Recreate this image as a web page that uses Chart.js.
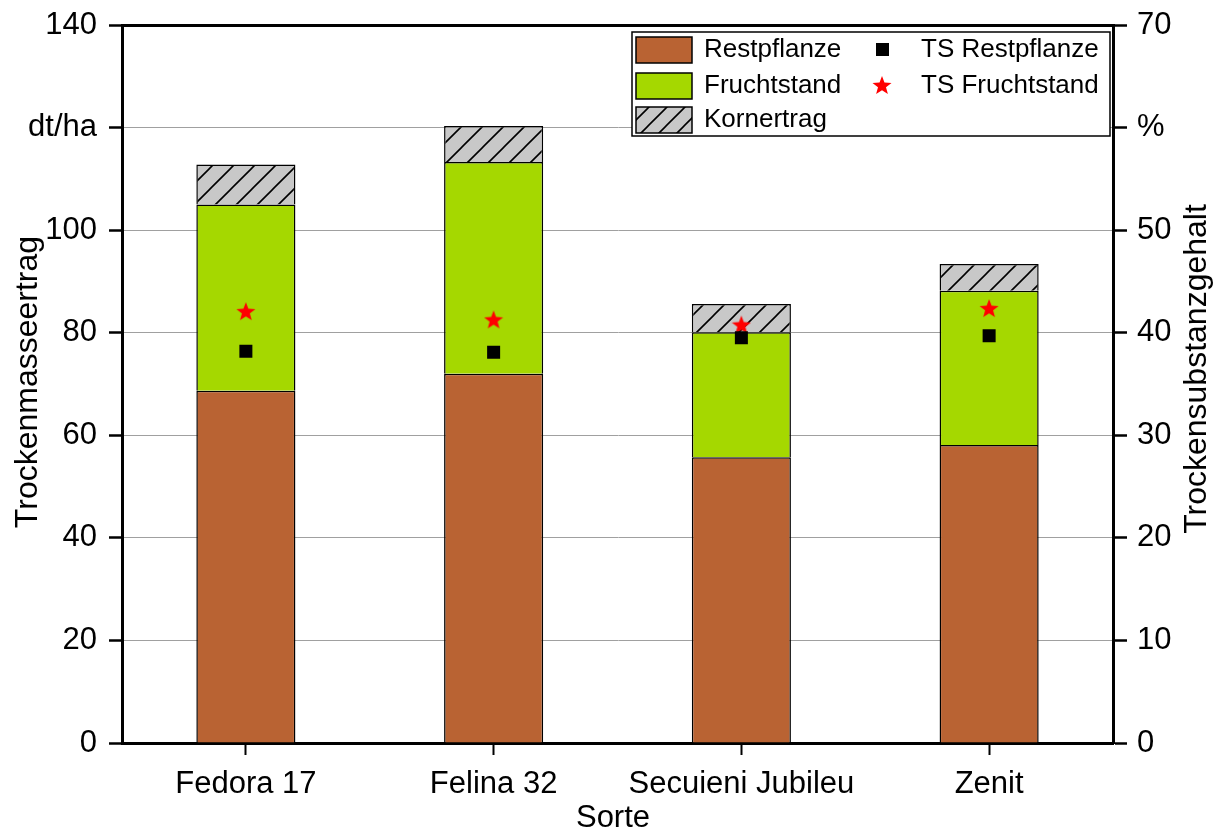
<!DOCTYPE html>
<html>
<head>
<meta charset="utf-8">
<script src="https://cdn.jsdelivr.net/npm/chart.js@4.4.1/dist/chart.umd.min.js"></script>
<style>
  html, body { margin: 0; padding: 0; background: #fff; }
</style>
</head>
<body>
<canvas id="chart" width="1216" height="831"></canvas>
<script>
// values
const sorten = ['Fedora 17', 'Felina 32', 'Secuieni Jubileu', 'Zenit'];
const restpflanze = [68.7, 72.0, 55.7, 58.1];
const fruchtstand = [36.3, 41.3, 24.4, 30.1];
const kornertrag = [7.8, 7.0, 5.5, 5.2];
const tsRestpflanze = [38.2, 38.1, 39.5, 39.7];
const tsFruchtstand = [42.1, 41.3, 40.8, 42.4];
const leftTickLabels = ['0', '20', '40', '60', '80', '100', 'dt/ha', '140'];
const rightTickLabels = ['0', '10', '20', '30', '40', '50', '%', '70'];

const FONT = "'Liberation Sans', Arial, sans-serif";
const brown = '#b96333';
const green = '#a5d800';

// diagonal hatch for Kornertrag
function makeHatch(step) {
  const c = document.createElement('canvas');
  c.width = step; c.height = step;
  const g = c.getContext('2d');
  g.fillStyle = '#c8c8c8';
  g.fillRect(0, 0, step, step);
  g.strokeStyle = '#000';
  g.lineWidth = 1.6;
  g.beginPath();
  g.moveTo(-2, step + 2); g.lineTo(step + 2, -2);
  g.moveTo(-2, 2); g.lineTo(2, -2);
  g.moveTo(step - 2, step + 2); g.lineTo(step + 2, step - 2);
  g.stroke();
  return g.createPattern(c, 'repeat');
}

// filled five point star as point image
function makeStar(size, color) {
  const c = document.createElement('canvas');
  c.width = size; c.height = size;
  const g = c.getContext('2d');
  const cx = size / 2, cy = size / 2 + 1, R = size / 2, r = R * 0.42;
  g.beginPath();
  for (let i = 0; i < 10; i++) {
    const a = -Math.PI / 2 + i * Math.PI / 5;
    const rad = i % 2 ? r : R;
    g.lineTo(cx + rad * Math.cos(a), cy + rad * Math.sin(a));
  }
  g.closePath();
  g.fillStyle = color;
  g.fill();
  return c;
}

const ctx = document.getElementById('chart').getContext('2d');
const hatch = makeHatch(21);
const starImg = makeStar(20, '#ff0000');

// titles and the boxed legend are drawn by hand
const extras = {
  id: 'extras',
  afterDraw(chart) {
    const g = chart.ctx;
    g.save();
    g.fillStyle = '#000';
    g.textAlign = 'center';
    g.textBaseline = 'middle';
    g.font = '32px ' + FONT;
    g.save(); g.translate(28, 382); g.rotate(-Math.PI / 2); g.fillText('Trockenmasseertrag', 0, 0); g.restore();
    g.save(); g.translate(1197, 369); g.rotate(-Math.PI / 2); g.fillText('Trockensubstanzgehalt', 0, 0); g.restore();
    g.font = '31px ' + FONT;
    g.fillText('Sorte', 613, 818);

    // legend box
    g.fillStyle = '#fff';
    g.fillRect(632, 32, 478, 104);
    g.strokeStyle = '#000';
    g.lineWidth = 1.5;
    g.strokeRect(632, 32, 478, 104);
    const sw = [[brown, 37], [green, 73], [makeHatch(18), 107]];
    sw.forEach(([fill, y]) => {
      g.fillStyle = fill;
      g.fillRect(636, y, 56, 26);
      g.strokeRect(636, y, 56, 26);
    });
    g.fillStyle = '#000';
    g.textAlign = 'left';
    g.font = '26px ' + FONT;
    g.fillText('Restpflanze', 704, 50);
    g.fillText('Fruchtstand', 704, 86);
    g.fillText('Kornertrag', 704, 120);
    g.fillText('TS Restpflanze', 921, 50);
    g.fillText('TS Fruchtstand', 921, 86);
    g.fillRect(876, 43, 13, 13);
    g.drawImage(starImg, 882 - 10, 85 - 10);
    g.restore();
  }
};

// fixed axis sizes so the plot area sits where it does in the picture
const fitY = w => s => { s.width = w; s.paddingTop = 0; s.paddingBottom = 0; };

new Chart(ctx, {
  type: 'bar',
  data: {
    labels: sorten,
    datasets: [
      { type: 'line', label: 'TS Restpflanze', data: tsRestpflanze, yAxisID: 'y2', showLine: false,
        pointStyle: 'rect', pointRadius: 9.2, pointBackgroundColor: '#000', pointBorderWidth: 0, order: 0 },
      { type: 'line', label: 'TS Fruchtstand', data: tsFruchtstand, yAxisID: 'y2', showLine: false,
        pointStyle: starImg, pointRadius: 9, order: 0 },
      { label: 'Restpflanze', data: restpflanze, backgroundColor: brown, borderColor: '#000', borderWidth: 1.5, stack: 's', order: 1 },
      { label: 'Fruchtstand', data: fruchtstand, backgroundColor: green, borderColor: '#000', borderWidth: 1.5, stack: 's', order: 1 },
      { label: 'Kornertrag', data: kornertrag, backgroundColor: hatch, borderColor: '#000', borderWidth: 1.5, stack: 's', order: 1 }
    ]
  },
  options: {
    responsive: false,
    animation: false,
    devicePixelRatio: 1,
    layout: { padding: { top: 25, left: 0, right: 0, bottom: 0 } },
    datasets: { bar: { categoryPercentage: 1, barPercentage: 0.4 } },
    plugins: { legend: { display: false }, tooltip: { enabled: false } },
    scales: {
      x: {
        stacked: true,
        afterFit: s => { s.height = 88; s.paddingLeft = 0; s.paddingRight = 0; },
        border: { color: '#000', width: 3 },
        grid: { offset: false, drawOnChartArea: false, tickLength: 12, tickColor: '#000', tickWidth: 2 },
        ticks: { color: '#000', font: { family: FONT, size: 31 }, padding: 11 }
      },
      y: {
        stacked: true,
        min: 0, max: 140,
        afterFit: fitY(122),
        border: { color: '#000', width: 3 },
        grid: {
          color: c => (c.tick && c.tick.value === 140 ? '#000' : '#a0a0a0'),
          lineWidth: c => (c.tick && c.tick.value === 140 ? 3 : 1),
          tickLength: 13, tickColor: '#000', tickWidth: 2.5
        },
        ticks: { stepSize: 20, color: '#000', font: { family: FONT, size: 31 }, padding: 12,
          callback: (v, i) => leftTickLabels[i] }
      },
      y2: {
        position: 'right',
        min: 0, max: 70,
        afterFit: fitY(103),
        border: { color: '#000', width: 3 },
        grid: { drawOnChartArea: false, tickLength: 14, tickColor: '#000', tickWidth: 2.5 },
        ticks: { stepSize: 10, color: '#000', font: { family: FONT, size: 31 }, padding: 10,
          callback: (v, i) => rightTickLabels[i] }
      }
    }
  },
  plugins: [extras]
});
</script>
</body>
</html>
